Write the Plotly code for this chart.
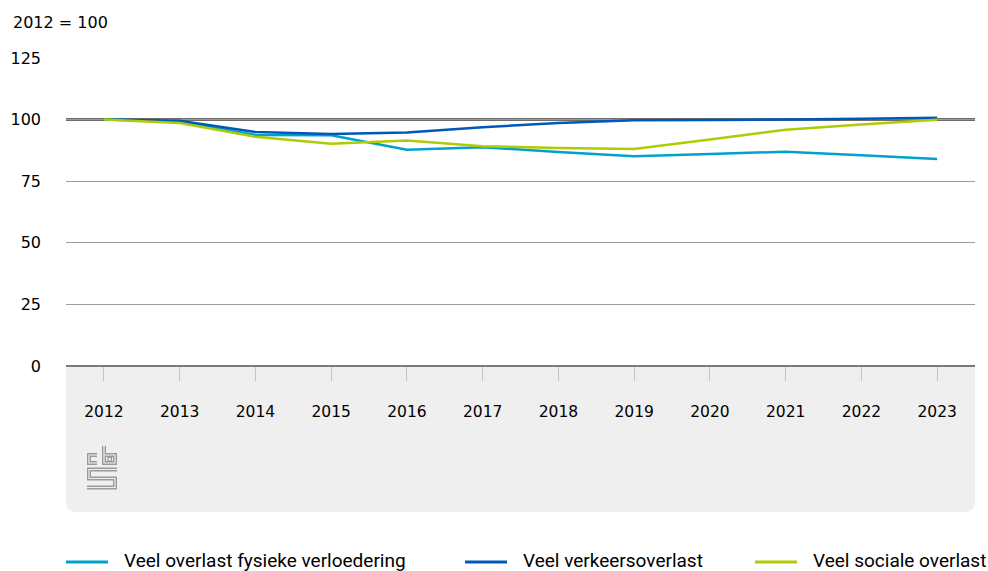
import plotly.graph_objects as go

years = [2012, 2013, 2014, 2015, 2016, 2017, 2018, 2019, 2020, 2021, 2022, 2023]
fysiek = [100, 99.2, 93.8, 93.6, 87.8, 88.8, 86.8, 85.1, 86.0, 87.0, 85.5, 84.0]
verkeer = [100, 99.5, 95.0, 94.2, 94.8, 96.9, 98.6, 99.7, 99.8, 99.9, 100.3, 100.8]
sociaal = [100, 98.6, 93.0, 90.2, 91.5, 89.2, 88.5, 88.1, 91.9, 95.9, 98.0, 99.9]

names = ["Veel overlast fysieke verloedering", "Veel verkeersoverlast", "Veel sociale overlast"]
colors = ["#00a1cd", "#0058b8", "#afcb05"]
series = [fysiek, verkeer, sociaal]
legend_x = [66, 465, 755]

W, H = 988, 571
L, R, T, B = 66, 13, 58, 205
pw, ph = W - L - R, H - T - B


def px(x):
    return (x - L) / pw


def py(y):
    return (H - B - y) / ph


fig = go.Figure()
for name, vals, c in zip(names, series, colors):
    fig.add_trace(go.Scatter(x=years, y=vals, name=name, mode="lines",
                             line=dict(color=c, width=2.5), showlegend=False))

# grey panel under the x axis
yb = py(512)
rx, ry = 10 / pw, 10 / ph
box = (f"M 0,0 L 1,0 L 1,{yb + ry} Q 1,{yb} {1 - rx},{yb} "
       f"L {rx},{yb} Q 0,{yb} 0,{yb + ry} Z")
shapes = [dict(type="path", xref="paper", yref="paper", path=box,
               fillcolor="#efefef", line=dict(width=0), layer="below"),
          dict(type="line", xref="paper", yref="y", x0=0, x1=1, y0=100, y1=100,
               line=dict(color="#6d6d6d", width=3), layer="between")]

# cbs logo
logo = [[(97, 455), (89, 455), (89, 463), (97, 463)],
        [(104, 446), (104, 463), (115, 463), (115, 455), (104, 455)],
        [(117, 469.5), (89, 469.5), (89, 478.5), (115, 478.5), (115, 487.5), (87, 487.5)]]
for w, col in [(4, "#9a9a9a"), (1.2, "#efefef")]:
    for pts in logo:
        p = "M " + " L ".join(f"{px(a)},{py(b)}" for a, b in pts)
        shapes.append(dict(type="path", xref="paper", yref="paper", path=p,
                           line=dict(color=col, width=w)))
shapes.append(dict(type="rect", xref="paper", yref="paper", x0=px(108), x1=px(111.5),
                   y0=py(461), y1=py(457.5), line=dict(color="#9a9a9a", width=1.2)))

# legend drawn by hand (long line samples)
annotations = [dict(text="2012 = 100", xref="paper", yref="paper", x=px(11), y=py(22),
                    xanchor="left", yanchor="middle", showarrow=False,
                    font=dict(size=16))]
for name, c, lx in zip(names, colors, legend_x):
    shapes.append(dict(type="line", xref="paper", yref="paper", x0=px(lx), x1=px(lx + 42),
                       y0=py(562), y1=py(562), line=dict(color=c, width=3)))
    annotations.append(dict(text=name, xref="paper", yref="paper", x=px(lx + 56), y=py(560),
                            xanchor="left", yanchor="middle", showarrow=False,
                            font=dict(family="Roboto, sans-serif", size=19, color="#000")))

fig.update_layout(
    width=W, height=H,
    margin=dict(l=L, r=R, t=T, b=B, autoexpand=False),
    plot_bgcolor="white", paper_bgcolor="white",
    font=dict(family="DejaVu Sans, sans-serif", size=16, color="#000"),
    shapes=shapes,
    annotations=annotations,
    xaxis=dict(range=[2011.5, 2023.5], tickvals=years, ticks="outside", ticklen=14,
               tickcolor="#c4c4c4", tickwidth=1, showgrid=False, zeroline=False,
               showline=False, ticklabelstandoff=17, tickfont=dict(size=15.5)),
    yaxis=dict(range=[0, 125], tickvals=[0, 25, 50, 75, 100, 125], showgrid=True,
               gridcolor="#9c9c9c", gridwidth=1, zeroline=True, zerolinecolor="#7a7a7a",
               zerolinewidth=2, ticks="", ticklabelstandoff=24, tickfont=dict(size=16)),
)

fig.write_html("out.html", config={"displayModeBar": False},
               post_script="document.body.style.margin='0';")
